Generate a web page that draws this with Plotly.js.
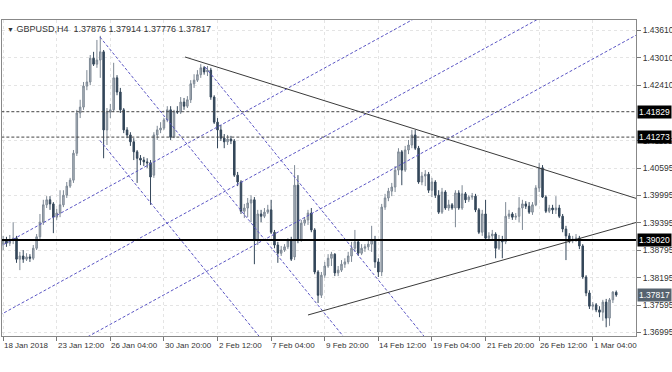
<!DOCTYPE html>
<html><head><meta charset="utf-8">
<script src="https://cdn.plot.ly/plotly-3.0.1.min.js"></script>
<style>html,body{margin:0;padding:0;background:#fff}#c{width:672px;height:372px}</style>
</head><body><div id="c"></div>
<script>
const opens=[1.3893,1.3902,1.3895,1.3902,1.3906,1.3860,1.3867,1.3860,1.3865,1.3862,1.3884,1.3909,1.3941,1.3979,1.3990,1.3981,1.3952,1.3961,1.3979,1.4000,1.4020,1.4033,1.4092,1.4180,1.4193,1.4239,1.4248,1.4300,1.4287,1.4296,1.4314,1.4143,1.4182,1.4187,1.4257,1.4226,1.4187,1.4143,1.4132,1.4117,1.4095,1.4081,1.4077,1.4073,1.4071,1.4044,1.4132,1.4143,1.4147,1.4165,1.4187,1.4127,1.4184,1.4182,1.4204,1.4195,1.4209,1.4244,1.4252,1.4264,1.4279,1.4270,1.4274,1.4215,1.4160,1.4143,1.4125,1.4117,1.4123,1.4119,1.4044,1.4029,1.3965,1.3972,1.3983,1.3990,1.3902,1.3959,1.3954,1.3963,1.3968,1.3919,1.3891,1.3873,1.3880,1.3887,1.3900,1.3865,1.4022,1.3902,1.3939,1.3946,1.3961,1.3924,1.3832,1.3781,1.3825,1.3845,1.3862,1.3871,1.3830,1.3836,1.3849,1.3854,1.3867,1.3884,1.3898,1.3873,1.3884,1.3887,1.3893,1.3902,1.3854,1.3832,1.3974,1.3994,1.4009,1.4018,1.4055,1.4095,1.4055,1.4099,1.4110,1.4132,1.4103,1.4029,1.4042,1.4046,1.4011,1.4029,1.4000,1.3963,1.4007,1.3972,1.3979,1.3972,1.4005,1.3972,1.4003,1.3990,1.3996,1.3998,1.3968,1.3919,1.3959,1.3906,1.3911,1.3915,1.3884,1.3902,1.3898,1.3954,1.3959,1.3952,1.3954,1.3972,1.3981,1.3976,1.3963,1.3979,1.4016,1.4060,1.3996,1.3965,1.3972,1.3968,1.3972,1.3954,1.3926,1.3911,1.3900,1.3904,1.3906,1.3889,1.3821,1.3786,1.3757,1.3760,1.3749,1.3744,1.3766,1.3731,1.3771,1.37876];
const highs=[1.3911,1.3909,1.3913,1.3941,1.3911,1.3876,1.3880,1.3873,1.3871,1.3891,1.3915,1.3959,1.3990,1.3998,1.3998,1.3985,1.3970,1.4011,1.4011,1.4029,1.4038,1.4099,1.4187,1.4209,1.4248,1.4274,1.4307,1.4314,1.4340,1.4349,1.4318,1.4191,1.4200,1.4290,1.4263,1.4235,1.4191,1.4149,1.4138,1.4125,1.4099,1.4088,1.4084,1.4081,1.4077,1.4138,1.4152,1.4160,1.4169,1.4195,1.4195,1.4187,1.4195,1.4215,1.4213,1.4217,1.4252,1.4265,1.4274,1.4287,1.4283,1.4283,1.4279,1.4219,1.4169,1.4154,1.4134,1.4132,1.4130,1.4123,1.4051,1.4033,1.3981,1.3994,1.4000,1.3996,1.3968,1.3968,1.3972,1.3979,1.3990,1.3924,1.3898,1.3889,1.3893,1.3906,1.3909,1.4066,1.4044,1.3946,1.3952,1.3968,1.3972,1.3928,1.3836,1.3832,1.3854,1.3871,1.3876,1.3873,1.3845,1.3858,1.3862,1.3876,1.3898,1.3924,1.3902,1.3893,1.3893,1.3902,1.3933,1.3911,1.3862,1.3981,1.4003,1.4016,1.4027,1.4064,1.4103,1.4099,1.4108,1.4121,1.4143,1.4143,1.4108,1.4051,1.4055,1.4051,1.4038,1.4033,1.4011,1.4016,1.4011,1.3990,1.3983,1.4011,1.4011,1.4022,1.4007,1.4000,1.4005,1.4003,1.3972,1.3968,1.3990,1.3919,1.3924,1.3919,1.3913,1.3911,1.3985,1.3968,1.3963,1.3961,1.3996,1.3990,1.3987,1.3985,1.3985,1.4022,1.4071,1.4066,1.4000,1.3979,1.3979,1.3998,1.3979,1.3959,1.3933,1.3917,1.3911,1.3915,1.3911,1.3893,1.3825,1.3792,1.3766,1.3764,1.3757,1.3771,1.3773,1.3775,1.3790,1.37914];
const lows=[1.3880,1.3887,1.3889,1.3893,1.3852,1.3836,1.3852,1.3856,1.3854,1.3858,1.3880,1.3902,1.3935,1.3972,1.3968,1.3917,1.3946,1.3952,1.3974,1.3994,1.4016,1.4027,1.4086,1.4169,1.4187,1.4230,1.4241,1.4283,1.4279,1.4257,1.4081,1.4110,1.4169,1.4182,1.4219,1.4180,1.4136,1.4125,1.4108,1.4077,1.4027,1.4066,1.4064,1.4060,1.3979,1.4038,1.4121,1.4136,1.4143,1.4160,1.4121,1.4125,1.4178,1.4178,1.4187,1.4191,1.4202,1.4235,1.4248,1.4257,1.4264,1.4261,1.4209,1.4156,1.4103,1.4119,1.4103,1.4110,1.4112,1.4040,1.4020,1.3959,1.3950,1.3952,1.3941,1.3849,1.3891,1.3941,1.3950,1.3959,1.3915,1.3884,1.3852,1.3867,1.3876,1.3882,1.3856,1.3858,1.3895,1.3898,1.3933,1.3935,1.3919,1.3827,1.3764,1.3775,1.3819,1.3841,1.3845,1.3823,1.3823,1.3832,1.3841,1.3849,1.3854,1.3876,1.3867,1.3869,1.3876,1.3880,1.3876,1.3841,1.3821,1.3823,1.3968,1.3987,1.3998,1.4007,1.4044,1.4022,1.4051,1.4090,1.4103,1.4099,1.4025,1.4022,1.4020,1.4005,1.3996,1.3994,1.3959,1.3959,1.3968,1.3966,1.3968,1.3930,1.3968,1.3968,1.3983,1.3985,1.3990,1.3963,1.3915,1.3911,1.3902,1.3900,1.3902,1.3862,1.3880,1.3862,1.3893,1.3948,1.3946,1.3946,1.3941,1.3924,1.3970,1.3959,1.3957,1.3976,1.4007,1.3994,1.3961,1.3961,1.3959,1.3959,1.3950,1.3919,1.3858,1.3895,1.3895,1.3898,1.3882,1.3817,1.3779,1.3751,1.3749,1.3744,1.3733,1.3725,1.3711,1.3714,1.3764,1.37776];
const closes=[1.3902,1.3895,1.3902,1.3906,1.3860,1.3867,1.3860,1.3865,1.3862,1.3884,1.3909,1.3941,1.3979,1.3990,1.3981,1.3952,1.3961,1.3979,1.4000,1.4020,1.4033,1.4092,1.4180,1.4193,1.4239,1.4248,1.4300,1.4287,1.4296,1.4314,1.4143,1.4182,1.4187,1.4257,1.4226,1.4187,1.4143,1.4132,1.4117,1.4095,1.4081,1.4077,1.4073,1.4071,1.4040,1.4132,1.4143,1.4147,1.4165,1.4187,1.4127,1.4184,1.4182,1.4204,1.4195,1.4209,1.4244,1.4252,1.4264,1.4279,1.4270,1.4274,1.4215,1.4160,1.4143,1.4125,1.4117,1.4123,1.4119,1.4044,1.4029,1.3965,1.3972,1.3983,1.3990,1.3902,1.3959,1.3954,1.3963,1.3968,1.3919,1.3891,1.3873,1.3880,1.3887,1.3900,1.3860,1.4022,1.3902,1.3939,1.3946,1.3961,1.3924,1.3832,1.3781,1.3825,1.3845,1.3862,1.3871,1.3830,1.3836,1.3849,1.3854,1.3867,1.3884,1.3898,1.3873,1.3884,1.3887,1.3893,1.3902,1.3854,1.3832,1.3974,1.3994,1.4009,1.4018,1.4055,1.4095,1.4055,1.4099,1.4110,1.4132,1.4103,1.4029,1.4042,1.4046,1.4011,1.4029,1.4000,1.3963,1.4007,1.3972,1.3979,1.3972,1.4005,1.3972,1.4003,1.3990,1.3996,1.3998,1.3968,1.3919,1.3959,1.3906,1.3911,1.3915,1.3884,1.3902,1.3898,1.3954,1.3959,1.3952,1.3954,1.3972,1.3981,1.3976,1.3963,1.3979,1.4016,1.4060,1.3996,1.3965,1.3972,1.3968,1.3972,1.3954,1.3926,1.3911,1.3900,1.3904,1.3906,1.3889,1.3821,1.3786,1.3757,1.3760,1.3749,1.3744,1.3766,1.3731,1.3771,1.3788,1.37817];

const timeTickIdx=[0,16,32,48,64,80,96,112,128,144,160,176];
const timeTickText=["18 Jan 2018","23 Jan 12:00","26 Jan 04:00","30 Jan 20:00","2 Feb 12:00","7 Feb 04:00","9 Feb 20:00","14 Feb 12:00","19 Feb 04:00","21 Feb 20:00","26 Feb 12:00","1 Mar 04:00"];
const priceTicks=[1.43610,1.43010,1.42410,1.41195,1.40595,1.39995,1.39395,1.38795,1.38195,1.37595,1.36995];
const priceTickText=["1.43610","1.43010","1.42410","1.41195","1.40595","1.39995","1.39395","1.38795","1.38195","1.37595","1.36995"];

const dashedLevels=[1.41829,1.41273];
const solidLevel=1.39020;
const lastPrice=1.37817;
const titleSymbol="GBPUSD,H4";
const titleOHLC=["1.37876","1.37914","1.37776","1.37817"];

// drawn objects: [bar index, price] anchors
const resistanceLine={i:[54.3,192],p:[1.43027,1.39860]};
const supportLine={i:[91.0,192],p:[1.37378,1.39467]};
const channelUp1={i:[-1,130],p:[1.38874,1.44160]};
const channelUp2={i:[-1,170],p:[1.37374,1.44274]};
const channelUp3={i:[20,195],p:[1.36689,1.43750]};
const channelDn0={i:[28.9,90],p:[1.41200,1.35686]};
const channelDn1={i:[28.9,110],p:[1.43465,1.36147]};
const channelDn2={i:[60.3,140],p:[1.42808,1.35616]};

const idx=opens.map((_,k)=>k);
const traces=[];
traces.push({type:'candlestick',x:idx,open:opens,high:highs,low:lows,close:closes,
  increasing:{line:{color:'#7d8894',width:1},fillcolor:'#b0b7c0'},
  decreasing:{line:{color:'#34475a',width:1},fillcolor:'#34475a'},
  whiskerwidth:0,hoverinfo:'none',showlegend:false});
const blue={color:'#5a55c4',width:1,dash:'3px,2px'};
[channelUp1,channelUp2,channelUp3,channelDn0,channelDn1,channelDn2].forEach(l=>{
  traces.push({type:'scatter',mode:'lines',x:l.i,y:l.p,line:blue,hoverinfo:'none',showlegend:false});
});
[resistanceLine,supportLine].forEach(l=>{
  traces.push({type:'scatter',mode:'lines',x:l.i,y:l.p,line:{color:'#3a3a3a',width:1},hoverinfo:'none',showlegend:false});
});
dashedLevels.forEach(v=>{
  traces.push({type:'scatter',mode:'lines',x:[-5,200],y:[v,v],line:{color:'#444',width:1,dash:'3px,2px'},hoverinfo:'none',showlegend:false});
});
traces.push({type:'scatter',mode:'lines',x:[-5,200],y:[solidLevel,solidLevel],line:{color:'#000',width:2},hoverinfo:'none',showlegend:false});

const font={family:'Liberation Sans, Arial, sans-serif',size:8,color:'#333'};
const annotations=[];
timeTickIdx.forEach((t,k)=>{
  annotations.push({x:t,xref:'x',y:0,yref:'paper',yanchor:'top',xanchor:'left',xshift:-1,yshift:-3,
    text:timeTickText[k],showarrow:false,font:font});
});
const boxLabel=(v,bg)=>({x:1,xref:'paper',y:v,yref:'y',xanchor:'left',yanchor:'middle',xshift:1,
  text:v.toFixed(5),showarrow:false,bgcolor:bg,borderpad:1,
  font:{family:'Liberation Sans, Arial, sans-serif',size:8.5,color:'#fff'}});
dashedLevels.forEach(v=>annotations.push(boxLabel(v,'#000')));
annotations.push(boxLabel(solidLevel,'#000'));
annotations.push(boxLabel(lastPrice,'#56636f'));
annotations.push({x:0,xref:'paper',y:1,yref:'paper',xanchor:'left',yanchor:'top',xshift:3,yshift:-2,
  text:'<span style="font-size:7px">▼</span> '+titleSymbol+'&nbsp;&nbsp;'+titleOHLC.join(' '),showarrow:false,
  font:{family:'Liberation Sans, Arial, sans-serif',size:9,color:'#333'}});

const layout={
  width:672,height:372,margin:{l:2,r:36,t:20,b:36},
  paper_bgcolor:'#fff',plot_bgcolor:'#fff',
  xaxis:{range:[-0.33,188.9],tickvals:timeTickIdx,showticklabels:false,ticks:'outside',ticklen:4,tickcolor:'#777',
    showgrid:true,gridcolor:'#e4e4e4',griddash:'dot',zeroline:false,showline:true,linecolor:'#888',mirror:true,
    rangeslider:{visible:false},fixedrange:true},
  yaxis:{side:'right',range:[1.36918,1.43837],tickvals:priceTicks,ticktext:priceTickText,ticks:'outside',ticklen:4,
    tickcolor:'#777',tickfont:{family:'Liberation Sans, Arial, sans-serif',size:8.5,color:'#333'},showgrid:true,gridcolor:'#e4e4e4',griddash:'dot',zeroline:false,
    showline:true,linecolor:'#888',mirror:true,fixedrange:true},
  boxgap:0.35,
  annotations:annotations,showlegend:false,hovermode:false
};
Plotly.newPlot('c',traces,layout,{staticPlot:true,displayModeBar:false});
</script></body></html>
